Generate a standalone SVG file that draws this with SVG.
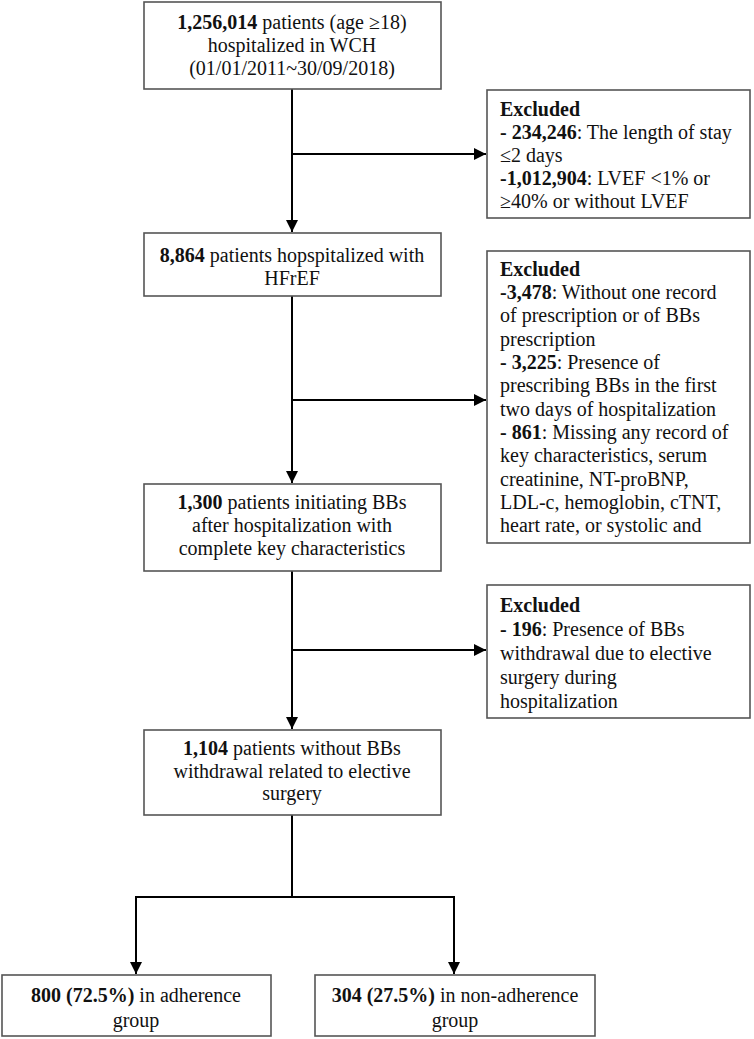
<svg xmlns="http://www.w3.org/2000/svg" width="754" height="1039" viewBox="0 0 754 1039">
<style>
.box{fill:#fff;stroke:#555;stroke-width:1.6}
text{font-family:"Liberation Serif","Times New Roman",serif;font-size:20px;fill:#111}
.c{text-anchor:middle}
.b{font-weight:bold}
.ln{fill:none;stroke:#000;stroke-width:2}
</style>
<defs>
<marker id="ah" viewBox="0 0 10 10" refX="10" refY="5" markerWidth="12" markerHeight="12" markerUnits="userSpaceOnUse" orient="auto">
<path d="M0,0 L10,5 L0,10 z" fill="#000"/>
</marker>
</defs>
<rect width="754" height="1039" fill="#fff"/>
<g id="connectors">
<line class="ln" x1="292" y1="89" x2="292" y2="232" marker-end="url(#ah)"/>
<line class="ln" x1="292" y1="154" x2="486" y2="154" marker-end="url(#ah)"/>
<line class="ln" x1="292" y1="296" x2="292" y2="483" marker-end="url(#ah)"/>
<line class="ln" x1="292" y1="400" x2="486" y2="400" marker-end="url(#ah)"/>
<line class="ln" x1="292" y1="571" x2="292" y2="729" marker-end="url(#ah)"/>
<line class="ln" x1="292" y1="650" x2="486" y2="650" marker-end="url(#ah)"/>
<polyline class="ln" points="292,815 292,897"/>
<polyline class="ln" points="136,974 136,897 454,897 454,974" marker-start="url(#ah)" marker-end="url(#ah)" style="marker-start:none"/>
<line class="ln" x1="136" y1="897" x2="136" y2="974" marker-end="url(#ah)"/>
</g>
<g id="n1">
<rect class="box" x="144" y="2" width="297" height="87"/>
<text class="c" x="292" y="29"><tspan class="b">1,256,014</tspan> patients (age ≥18)</text>
<text class="c" x="292" y="52">hospitalized in WCH</text>
<text class="c" x="292" y="75">(01/01/2011~30/09/2018)</text>
</g>
<g id="e1">
<rect class="box" x="487" y="90" width="263" height="128"/>
<text x="500" y="116" class="b">Excluded</text>
<text x="500" y="139"><tspan class="b">- 234,246</tspan>: The length of stay</text>
<text x="500" y="162">≤2 days</text>
<text x="500" y="185"><tspan class="b">-1,012,904</tspan>: LVEF &lt;1% or</text>
<text x="500" y="208">≥40% or without LVEF</text>
</g>
<g id="n2">
<rect class="box" x="144" y="233" width="297" height="63"/>
<text class="c" x="292" y="262"><tspan class="b">8,864</tspan> patients hopspitalized with</text>
<text class="c" x="292" y="285">HFrEF</text>
</g>
<g id="e2">
<rect class="box" x="487" y="251" width="263" height="292"/>
<text x="500" y="276" class="b">Excluded</text>
<text x="500" y="299"><tspan class="b">-3,478</tspan>: Without one record</text>
<text x="500" y="322">of prescription or of BBs</text>
<text x="500" y="346">prescription</text>
<text x="500" y="369"><tspan class="b">- 3,225</tspan>: Presence of</text>
<text x="500" y="392">prescribing BBs in the first</text>
<text x="500" y="416">two days of hospitalization</text>
<text x="500" y="439"><tspan class="b">- 861</tspan>: Missing any record of</text>
<text x="500" y="462">key characteristics, serum</text>
<text x="500" y="486">creatinine, NT-proBNP,</text>
<text x="500" y="509">LDL-c, hemoglobin, cTNT,</text>
<text x="500" y="532">heart rate, or systolic and</text>
</g>
<g id="n3">
<rect class="box" x="144" y="484" width="297" height="87"/>
<text class="c" x="292" y="509"><tspan class="b">1,300</tspan> patients initiating BBs</text>
<text class="c" x="292" y="532">after hospitalization with</text>
<text class="c" x="292" y="555">complete key characteristics</text>
</g>
<g id="e3">
<rect class="box" x="487" y="585" width="263" height="133"/>
<text x="500" y="612" class="b">Excluded</text>
<text x="500" y="636"><tspan class="b">- 196</tspan>: Presence of BBs</text>
<text x="500" y="660">withdrawal due to elective</text>
<text x="500" y="684">surgery during</text>
<text x="500" y="708">hospitalization</text>
</g>
<g id="n4">
<rect class="box" x="144" y="730" width="297" height="85"/>
<text class="c" x="292" y="755"><tspan class="b">1,104</tspan> patients without BBs</text>
<text class="c" x="292" y="778">withdrawal related to elective</text>
<text class="c" x="292" y="800">surgery</text>
</g>
<g id="n5">
<rect class="box" x="2" y="975" width="269" height="61"/>
<text class="c" x="136" y="1002"><tspan class="b">800 (72.5%)</tspan> in adherence</text>
<text class="c" x="136" y="1027">group</text>
</g>
<g id="n6">
<rect class="box" x="315" y="975" width="280" height="61"/>
<text class="c" x="455" y="1002"><tspan class="b">304 (27.5%)</tspan> in non-adherence</text>
<text class="c" x="455" y="1027">group</text>
</g>
</svg>
